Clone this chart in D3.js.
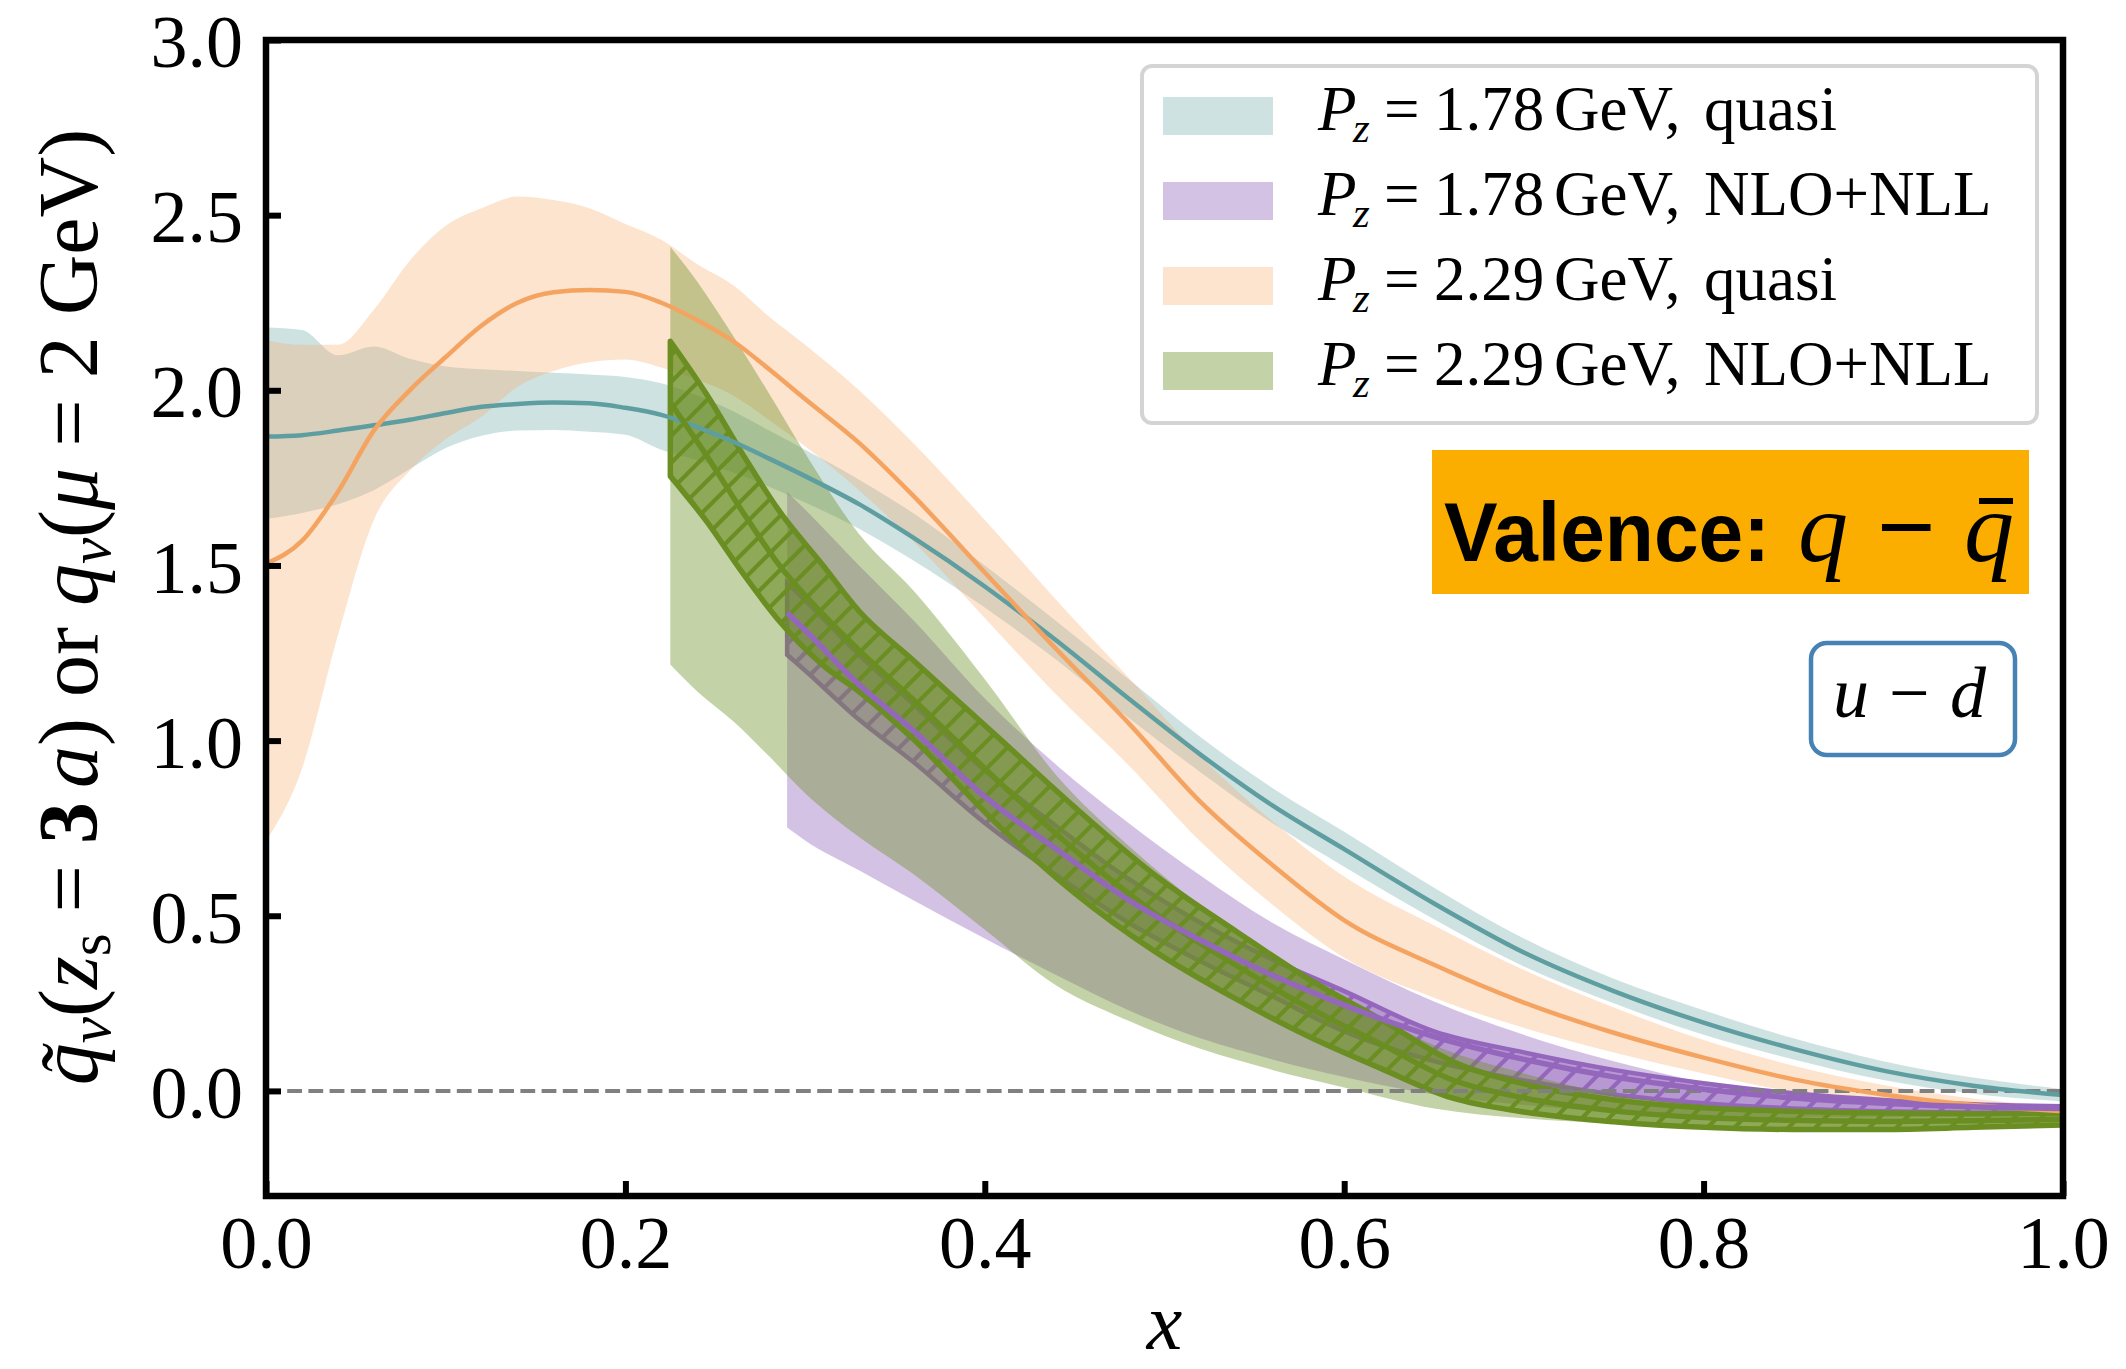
<!DOCTYPE html>
<html><head><meta charset="utf-8">
<script src="https://cdn.jsdelivr.net/npm/d3@7"></script>
<style>body{margin:0;background:#fff} svg{display:block}</style>
</head><body>
<svg id="chart" width="2126" height="1369"></svg>
<script>
// ---------------- data ----------------
// quasi-PDFs (P_z = 1.78 and 2.29 GeV)
const xQuasi = [0,0.02,0.04,0.06,0.08,0.10,0.12,0.14,0.16,0.18,0.20,0.22,0.24,0.26,0.28,0.30,0.33,0.36,0.40,0.44,0.48,0.52,0.56,0.60,0.65,0.70,0.75,0.80,0.85,0.90,0.95,1.00];
const tealMid = [1.868,1.872,1.885,1.900,1.916,1.935,1.953,1.961,1.965,1.963,1.950,1.930,1.895,1.853,1.805,1.755,1.675,1.580,1.440,1.285,1.120,0.960,0.815,0.690,0.535,0.395,0.285,0.195,0.120,0.058,0.015,-0.012];
const tealHi  = [2.179,2.172,2.100,2.125,2.090,2.068,2.060,2.055,2.050,2.045,2.038,2.020,1.985,1.940,1.885,1.830,1.745,1.650,1.500,1.340,1.175,1.010,0.865,0.740,0.580,0.435,0.320,0.230,0.150,0.085,0.038,0.005];
const tealLo  = [1.633,1.650,1.675,1.715,1.775,1.835,1.870,1.885,1.887,1.882,1.873,1.830,1.800,1.765,1.725,1.680,1.605,1.515,1.380,1.230,1.065,0.910,0.765,0.640,0.490,0.355,0.250,0.160,0.090,0.031,-0.008,-0.030];
const oraMid  = [1.505,1.570,1.710,1.885,2.000,2.095,2.185,2.250,2.280,2.286,2.281,2.250,2.200,2.140,2.060,1.975,1.850,1.700,1.480,1.260,1.050,0.825,0.645,0.487,0.360,0.252,0.166,0.095,0.033,-0.010,-0.040,-0.058];
const oraHi   = [2.143,2.130,2.130,2.230,2.370,2.470,2.520,2.553,2.543,2.520,2.475,2.430,2.360,2.300,2.210,2.130,2.000,1.850,1.630,1.400,1.180,0.955,0.770,0.612,0.472,0.345,0.238,0.145,0.072,0.017,-0.022,-0.044];
const oraLo   = [0.713,0.920,1.300,1.630,1.770,1.860,1.925,2.010,2.055,2.080,2.088,2.065,2.030,1.985,1.915,1.840,1.715,1.570,1.350,1.130,0.930,0.712,0.532,0.380,0.266,0.180,0.110,0.050,-0.003,-0.038,-0.058,-0.072];

// P_z = 1.78 GeV, NLO+NLL (purple)
const xPur = [0.29,0.30,0.33,0.36,0.40,0.44,0.48,0.52,0.56,0.60,0.65,0.70,0.75,0.80,0.85,0.90,0.95,1.00];
const purHi     = [1.710,1.660,1.500,1.345,1.120,0.930,0.765,0.615,0.480,0.375,0.255,0.160,0.085,0.025,-0.015,-0.035,-0.047,-0.052];
const purLo     = [0.752,0.715,0.630,0.545,0.435,0.330,0.230,0.150,0.090,0.040,-0.010,-0.040,-0.060,-0.070,-0.075,-0.075,-0.072,-0.068];
const purMid    = [1.365,1.315,1.160,1.030,0.840,0.690,0.545,0.430,0.330,0.245,0.155,0.090,0.040,0.005,-0.020,-0.035,-0.045,-0.050];
const purStatHi = [1.450,1.400,1.245,1.105,0.915,0.755,0.605,0.480,0.375,0.285,0.170,0.110,0.060,0.022,-0.007,-0.026,-0.038,-0.044];
const purStatLo = [1.245,1.200,1.060,0.940,0.765,0.615,0.480,0.370,0.270,0.170,0.085,0.030,-0.010,-0.035,-0.050,-0.058,-0.062,-0.063];

// P_z = 2.29 GeV, NLO+NLL (green) wide band
const xGrn = [0.225,0.24,0.26,0.28,0.30,0.33,0.36,0.40,0.44,0.48,0.52,0.56,0.60,0.65,0.70,0.75,0.80,0.85,0.90,0.95,1.00];
const grnHi = [2.410,2.310,2.155,1.990,1.820,1.590,1.430,1.175,0.900,0.700,0.530,0.390,0.270,0.130,0.050,-0.010,-0.040,-0.055,-0.062,-0.065,-0.065];
const grnLo = [1.217,1.140,1.055,0.955,0.850,0.725,0.620,0.460,0.300,0.200,0.120,0.060,0.010,-0.050,-0.078,-0.093,-0.104,-0.110,-0.112,-0.107,-0.097];
// green hatched band
const xGrnStat = [0.225,0.245,0.265,0.285,0.31,0.33,0.36,0.41,0.45,0.495,0.54,0.58,0.62,0.66,0.70,0.75,0.80,0.85,0.90,0.95,1.00];
const grnStatHi = [2.140,1.990,1.820,1.660,1.500,1.370,1.230,0.997,0.810,0.615,0.455,0.320,0.205,0.085,0.020,-0.025,-0.048,-0.058,-0.063,-0.065,-0.064];
const grnStatLo = [1.755,1.627,1.480,1.345,1.215,1.140,1.005,0.746,0.565,0.397,0.262,0.156,0.065,-0.020,-0.060,-0.088,-0.104,-0.110,-0.110,-0.104,-0.097];
const grnMid    = [1.965,1.815,1.655,1.505,1.360,1.258,1.118,0.872,0.688,0.506,0.358,0.238,0.135,0.032,-0.020,-0.057,-0.076,-0.084,-0.087,-0.085,-0.081];

const xTicks = [0.0,0.2,0.4,0.6,0.8,1.0];
const yTicks = [0.0,0.5,1.0,1.5,2.0,2.5,3.0];
const legendMomenta = ["1.78","1.78","2.29","2.29"];
const legendKinds = ["quasi","NLO+NLL","quasi","NLO+NLL"];
const legendColors = ["#5f9ea0","#9467bd","#f4a460","#6b8e23"];
const legendAlphas = [0.3,0.4,0.3,0.4];

// ---------------- drawing ----------------
const svg = d3.select("#chart");
const L = 266, R = 2063, T = 40, B = 1196;
const x = d3.scaleLinear().domain([0,1]).range([L,R]);
const y = d3.scaleLinear().domain([-0.3,3.0]).range([B,T]);
const serif = "'Liberation Serif','Times New Roman',serif";

const defs = svg.append("defs");
defs.append("clipPath").attr("id","clip").append("rect")
  .attr("x",L).attr("y",T).attr("width",R-L).attr("height",B-T);
function hatch(id,color){
  const s = 27;
  const p = defs.append("pattern").attr("id",id).attr("patternUnits","userSpaceOnUse")
    .attr("width",s).attr("height",s);
  p.append("path").attr("d",`M-6,6 L6,-6 M0,${s} L${s},0 M${s-6},${s+6} L${s+6},${s-6}`)
    .attr("stroke",color).attr("stroke-width",4.2).attr("fill","none");
}
hatch("hG","#6b8e23");
hatch("hP","#9467bd");

const plot = svg.append("g").attr("clip-path","url(#clip)");
const curve = d3.curveMonotoneX;
function band(xs, lo, hi){
  return d3.area().curve(curve).x((d,i)=>x(xs[i])).y0((d,i)=>y(lo[i])).y1((d,i)=>y(hi[i]))(xs);
}
function line(xs, ys){
  return d3.line().curve(curve).x((d,i)=>x(xs[i])).y((d,i)=>y(ys[i]))(xs);
}

// bands
plot.append("path").attr("d",band(xQuasi,tealLo,tealHi)).attr("fill","#5f9ea0").attr("fill-opacity",0.3);
plot.append("path").attr("d",band(xQuasi,oraLo,oraHi)).attr("fill","#f4a460").attr("fill-opacity",0.3);
plot.append("path").attr("d",band(xPur,purLo,purHi)).attr("fill","#9467bd").attr("fill-opacity",0.4);
// purple hatched
const pStat = band(xPur,purStatLo,purStatHi);
plot.append("path").attr("d",pStat).attr("fill","#9467bd").attr("fill-opacity",0.45);
plot.append("path").attr("d",pStat).attr("fill","url(#hP)");
plot.append("path").attr("d",pStat).attr("fill","none").attr("stroke","#9467bd").attr("stroke-width",4.5);
// green wide
plot.append("path").attr("d",band(xGrn,grnLo,grnHi)).attr("fill","#6b8e23").attr("fill-opacity",0.4);
// green hatched
const gStat = band(xGrnStat,grnStatLo,grnStatHi);
plot.append("path").attr("d",gStat).attr("fill","#6b8e23").attr("fill-opacity",0.6);
plot.append("path").attr("d",gStat).attr("fill","url(#hG)");
plot.append("path").attr("d",gStat).attr("fill","none").attr("stroke","#6b8e23").attr("stroke-width",5.5).attr("stroke-linejoin","round");

// zero line
plot.append("line").attr("x1",x(0)).attr("x2",x(1)).attr("y1",y(0)).attr("y2",y(0))
  .attr("stroke","#808080").attr("stroke-width",4).attr("stroke-dasharray","14.8 6.4");

// central lines
plot.append("path").attr("d",line(xQuasi,tealMid)).attr("fill","none").attr("stroke","#5f9ea0").attr("stroke-width",4.5);
plot.append("path").attr("d",line(xQuasi,oraMid)).attr("fill","none").attr("stroke","#f4a460").attr("stroke-width",4.5);
plot.append("path").attr("d",line(xGrnStat,grnMid)).attr("fill","none").attr("stroke","#6b8e23").attr("stroke-width",5.5);
plot.append("path").attr("d",line(xPur,purMid)).attr("fill","none").attr("stroke","#9467bd").attr("stroke-width",5.5);

// axes
const xAxis = d3.axisBottom(x).tickValues(xTicks).tickFormat(d3.format(".1f"))
  .tickSizeInner(-15).tickSizeOuter(0).tickPadding(19);
const yAxis = d3.axisLeft(y).tickValues(yTicks).tickFormat(d3.format(".1f"))
  .tickSizeInner(-15).tickSizeOuter(0).tickPadding(23);
const gx = svg.append("g").attr("transform",`translate(0,${B})`).call(xAxis);
const gy = svg.append("g").attr("transform",`translate(${L},0)`).call(yAxis);
[gx,gy].forEach(g=>{
  g.select(".domain").remove();
  g.selectAll(".tick line").attr("stroke","#000").attr("stroke-width",6);
  g.selectAll(".tick text").attr("font-family",serif).attr("font-size",74).attr("fill","#000");
});
gy.selectAll(".tick text").attr("dy","0.36em");
// spines
svg.append("rect").attr("x",L).attr("y",T).attr("width",R-L).attr("height",B-T)
  .attr("fill","none").attr("stroke","#000").attr("stroke-width",6.5);

// axis labels
svg.append("text").attr("x",(L+R)/2).attr("y",1349).attr("text-anchor","middle")
  .attr("font-family",serif).attr("font-style","italic").attr("font-size",80).text("x");

const yl = svg.append("text").attr("transform","translate(97,607) rotate(-90)")
  .attr("text-anchor","middle").attr("font-family",serif).attr("font-size",84);
yl.append("tspan").attr("font-style","italic").text("q\u0303");
yl.append("tspan").attr("font-style","italic").attr("font-size",59).attr("dy",13).text("v");
yl.append("tspan").attr("dy",-13).text("(");
yl.append("tspan").attr("font-style","italic").text("z");
yl.append("tspan").attr("font-size",59).attr("dy",13).text("s");
yl.append("tspan").attr("dy",-13).text(" = ");
yl.append("tspan").attr("font-weight","bold").text("3");
yl.append("tspan").attr("font-style","italic").attr("dx",14).text("a");
yl.append("tspan").text(")  or  ");
yl.append("tspan").attr("font-style","italic").text("q");
yl.append("tspan").attr("font-style","italic").attr("font-size",59).attr("dy",13).text("v");
yl.append("tspan").attr("dy",-13).text("(");
yl.append("tspan").attr("font-style","italic").text("\u03bc");
yl.append("tspan").text(" = 2  GeV)");

// legend
const lg = svg.append("g");
lg.append("rect").attr("x",1142).attr("y",66).attr("width",895).attr("height",357)
  .attr("rx",10).attr("fill","#fff").attr("fill-opacity",0.8).attr("stroke","#d4d4d4").attr("stroke-width",4);
legendKinds.forEach((k,i)=>{
  const cy = 116 + i*85;
  lg.append("rect").attr("x",1163).attr("y",cy-19).attr("width",110).attr("height",38)
    .attr("fill",legendColors[i]).attr("fill-opacity",legendAlphas[i]);
  const t = lg.append("text").attr("y",cy+14).attr("font-family",serif).attr("font-size",63);
  t.append("tspan").attr("x",1318).attr("font-style","italic").text("P");
  t.append("tspan").attr("x",1353).attr("dy",12).attr("font-style","italic").attr("font-size",43).text("z");
  t.append("tspan").attr("x",1384).attr("dy",-12).text("=");
  t.append("tspan").attr("x",1434).text(legendMomenta[i]);
  t.append("tspan").attr("x",1554).text("GeV,");
  t.append("tspan").attr("x",1704).text(k);
});

// Valence annotation
svg.append("rect").attr("x",1432).attr("y",450).attr("width",597).attr("height",144).attr("fill","#fcae00");
svg.append("text").attr("x",1444).attr("y",561).attr("font-family","'Liberation Sans',Arial,sans-serif")
  .attr("font-weight","bold").attr("font-size",84).attr("textLength",326).attr("lengthAdjust","spacingAndGlyphs")
  .text("Valence:");
const vq = svg.append("text").attr("y",561).attr("font-family",serif).attr("font-size",100);
vq.append("tspan").attr("x",1798).attr("font-style","italic").text("q");
vq.append("tspan").attr("x",1878).attr("stroke","#000").attr("stroke-width",2).text("\u2212");
vq.append("tspan").attr("x",1964).attr("font-style","italic").text("q");
svg.append("line").attr("x1",1979).attr("x2",2013).attr("y1",501).attr("y2",501).attr("stroke","#000").attr("stroke-width",6);

// u - d box
svg.append("rect").attr("x",1811).attr("y",643).attr("width",204).attr("height",112).attr("rx",16)
  .attr("fill","#fff").attr("stroke","#4682b4").attr("stroke-width",4.5);
const ud = svg.append("text").attr("y",717).attr("font-family",serif).attr("font-size",72);
ud.append("tspan").attr("x",1833).attr("font-style","italic").text("u");
ud.append("tspan").attr("x",1889).text("\u2212");
ud.append("tspan").attr("x",1950).attr("font-style","italic").text("d");
</script>
</body></html>
